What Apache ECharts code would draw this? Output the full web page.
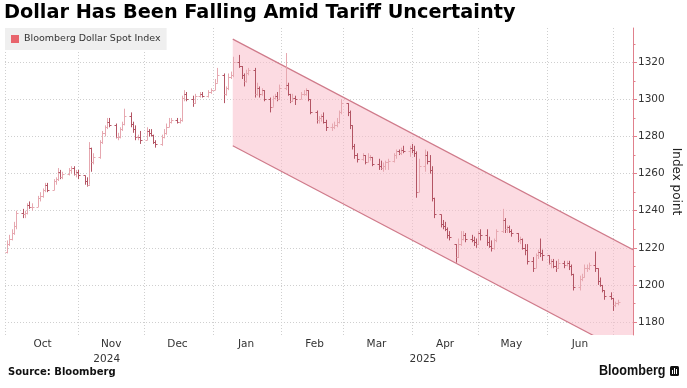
<!DOCTYPE html>
<html><head><meta charset="utf-8">
<script src="https://cdn.jsdelivr.net/npm/echarts@6/dist/echarts.min.js"></script>
<style>html,body{margin:0;padding:0;background:#fff}#c{width:687px;height:388px}</style>
</head><body><div id="c"></div>
<script>
// ---------- DATA ----------
const dates = [
 '2024-09-30','2024-10-01','2024-10-02','2024-10-03','2024-10-04','2024-10-07','2024-10-08','2024-10-09','2024-10-10','2024-10-11','2024-10-14','2024-10-15','2024-10-16','2024-10-17','2024-10-18','2024-10-21','2024-10-22','2024-10-23','2024-10-24','2024-10-25','2024-10-28','2024-10-29','2024-10-30','2024-10-31',
 '2024-11-01','2024-11-04','2024-11-05','2024-11-06','2024-11-07','2024-11-08','2024-11-11','2024-11-12','2024-11-13','2024-11-14','2024-11-15','2024-11-18','2024-11-19','2024-11-20','2024-11-21','2024-11-22','2024-11-25','2024-11-26','2024-11-27','2024-11-28','2024-11-29',
 '2024-12-02','2024-12-03','2024-12-04','2024-12-05','2024-12-06','2024-12-09','2024-12-10','2024-12-11','2024-12-12','2024-12-13','2024-12-16','2024-12-17','2024-12-18','2024-12-19','2024-12-20','2024-12-23','2024-12-24','2024-12-26','2024-12-27','2024-12-30','2024-12-31',
 '2025-01-02','2025-01-03','2025-01-06','2025-01-07','2025-01-08','2025-01-09','2025-01-10','2025-01-13','2025-01-14','2025-01-15','2025-01-16','2025-01-17','2025-01-20','2025-01-21','2025-01-22','2025-01-23','2025-01-24','2025-01-27','2025-01-28','2025-01-29','2025-01-30','2025-01-31',
 '2025-02-03','2025-02-04','2025-02-05','2025-02-06','2025-02-07','2025-02-10','2025-02-11','2025-02-12','2025-02-13','2025-02-14','2025-02-17','2025-02-18','2025-02-19','2025-02-20','2025-02-21','2025-02-24','2025-02-25','2025-02-26','2025-02-27','2025-02-28',
 '2025-03-03','2025-03-04','2025-03-05','2025-03-06','2025-03-07','2025-03-10','2025-03-11','2025-03-12','2025-03-13','2025-03-14','2025-03-17','2025-03-18','2025-03-19','2025-03-20','2025-03-21','2025-03-24','2025-03-25','2025-03-26','2025-03-27','2025-03-28','2025-03-31',
 '2025-04-01','2025-04-02','2025-04-03','2025-04-04','2025-04-07','2025-04-08','2025-04-09','2025-04-10','2025-04-11','2025-04-14','2025-04-15','2025-04-16','2025-04-17','2025-04-18','2025-04-21','2025-04-22','2025-04-23','2025-04-24','2025-04-25','2025-04-28','2025-04-29','2025-04-30',
 '2025-05-01','2025-05-02','2025-05-05','2025-05-06','2025-05-07','2025-05-08','2025-05-09','2025-05-12','2025-05-13','2025-05-14','2025-05-15','2025-05-16','2025-05-19','2025-05-20','2025-05-21','2025-05-22','2025-05-23','2025-05-26','2025-05-27','2025-05-28','2025-05-29','2025-05-30',
 '2025-06-02','2025-06-03','2025-06-04','2025-06-05','2025-06-06','2025-06-09','2025-06-10','2025-06-11','2025-06-12','2025-06-13','2025-06-16','2025-06-17','2025-06-18','2025-06-19','2025-06-20','2025-06-23','2025-06-24','2025-06-25','2025-06-26','2025-06-27','2025-06-30',
 '2025-07-01','2025-07-02','2025-07-03'
];
const openV = [
 1218,1222,1225,1228,1232,1239,1238,1239,1243,1242,1242,1247,1248,1251,1254,1251,1256,1257,1261,1258,1260,1262,1263,1260,
 1261,1259,1256,1254,1274,1266,1269,1277,1282,1285,1288,1286,1280,1280,1284,1287,1291,1287,1284,1280,1280,
 1278,1283,1282,1281,1277,1276,1280,1282,1285,1288,1289,1288,1289,1301,1303,1300,1298,1302,1303,1302,1304,
 1305,1309,1313,1303,1306,1312,1313,1320,1318,1313,1310,1314,1316,1303,1306,1303,1305,1300,1296,1301,1302,1300,
 1306,1308,1303,1299,1301,1300,1303,1303,1305,1300,1293,1289,1290,1291,1288,1285,1285,1286,1288,1293,
 1298,1293,1286,1275,1270,1268,1270,1266,1269,1269,1265,1264,1263,1264,1266,1267,1270,1272,1271,1273,1272,
 1274,1273,1271,1250,1264,1270,1267,1262,1247,1238,1233,1232,1230,1227,1222,1215,1222,1225,1227,1225,1224,1223,
 1222,1228,1227,1223,1221,1220,1224,1229,1235,1230,1231,1229,1228,1224,1225,1220,1219,1213,1209,1216,1218,1217,
 1216,1212,1213,1210,1209,1212,1211,1212,1210,1206,1199,1203,1204,1209,1209,1211,1209,1202,1200,1197,1194,
 1193,1189,1190
];
const highV = [
 1224,1227,1230,1234,1240,1241,1240,1244,1245,1244,1248,1250,1252,1255,1255,1257,1258,1263,1262,1261,1263,1264,1264,1262,
 1262,1259,1258,1277,1274,1271,1278,1283,1286,1290,1290,1287,1282,1285,1288,1295,1293,1288,1286,1281,1283,
 1285,1284,1284,1281,1278,1281,1284,1287,1290,1290,1290,1290,1302,1305,1304,1302,1303,1304,1304,1305,1306,
 1311,1317,1314,1307,1314,1315,1323,1324,1318,1314,1316,1317,1317,1309,1307,1306,1305,1301,1302,1303,1304,1308,
 1325,1309,1303,1303,1302,1304,1305,1306,1305,1300,1294,1291,1292,1293,1289,1287,1288,1290,1294,1300,
 1298,1294,1286,1276,1271,1271,1270,1271,1270,1269,1268,1267,1266,1267,1268,1271,1273,1273,1274,1275,1275,
 1276,1275,1272,1268,1273,1272,1270,1264,1247,1238,1235,1234,1231,1229,1222,1225,1229,1229,1228,1227,1226,1225,
 1229,1230,1230,1226,1224,1225,1230,1241,1236,1232,1232,1230,1228,1226,1225,1222,1222,1215,1217,1219,1225,1219,
 1216,1214,1214,1213,1214,1213,1213,1213,1211,1206,1205,1206,1211,1211,1212,1218,1209,1204,1200,1197,1196,
 1193,1191,1192
];
const lowV = [
 1217,1221,1224,1227,1230,1236,1236,1238,1241,1240,1242,1245,1247,1250,1250,1251,1254,1256,1257,1257,1259,1260,1259,1258,
 1257,1254,1253,1254,1261,1265,1268,1276,1280,1284,1285,1279,1278,1279,1283,1286,1285,1282,1278,1278,1276,
 1278,1280,1280,1276,1274,1275,1279,1281,1285,1287,1287,1287,1288,1299,1299,1296,1298,1301,1301,1301,1303,
 1305,1309,1298,1302,1305,1311,1312,1317,1311,1307,1309,1313,1301,1302,1301,1302,1299,1293,1296,1300,1299,1300,
 1305,1302,1298,1299,1297,1300,1302,1302,1299,1292,1287,1287,1288,1287,1283,1283,1284,1285,1287,1292,
 1291,1284,1273,1268,1266,1267,1265,1266,1267,1264,1262,1262,1261,1262,1262,1266,1268,1270,1270,1271,1269,
 1271,1269,1247,1250,1261,1265,1260,1245,1236,1231,1230,1229,1225,1224,1212,1215,1221,1224,1223,1223,1221,1220,
 1222,1224,1221,1220,1218,1219,1223,1228,1228,1228,1228,1226,1223,1222,1219,1216,1211,1207,1209,1214,1215,1213,
 1211,1209,1209,1207,1209,1209,1210,1208,1205,1197,1197,1202,1204,1207,1208,1207,1200,1199,1196,1192,1192,
 1186,1188,1189
];
const closeV = [
 1222,1225,1228,1232,1239,1238,1239,1243,1242,1242,1247,1248,1251,1254,1251,1256,1257,1261,1258,1260,1262,1263,1260,1261,
 1259,1256,1254,1274,1266,1269,1277,1282,1285,1288,1286,1280,1280,1284,1287,1291,1287,1284,1280,1280,1278,
 1283,1282,1281,1277,1276,1280,1282,1285,1288,1289,1288,1289,1301,1303,1300,1298,1302,1303,1302,1304,1305,
 1309,1313,1303,1306,1312,1313,1320,1318,1313,1310,1314,1316,1303,1306,1303,1305,1300,1296,1301,1302,1300,1306,
 1308,1303,1299,1301,1300,1303,1303,1305,1300,1293,1289,1290,1291,1288,1285,1285,1286,1288,1293,1298,
 1293,1286,1275,1270,1268,1270,1266,1269,1269,1265,1264,1263,1264,1266,1267,1270,1272,1271,1273,1272,1274,
 1273,1271,1250,1264,1270,1267,1262,1247,1238,1233,1232,1230,1227,1226,1215,1222,1225,1227,1225,1224,1223,1222,
 1228,1227,1223,1221,1220,1224,1229,1235,1230,1231,1229,1228,1224,1225,1220,1219,1213,1209,1216,1218,1217,1216,
 1212,1213,1210,1209,1212,1211,1212,1210,1206,1199,1203,1204,1209,1209,1211,1209,1202,1200,1197,1194,1193,
 1189,1190,1191
];
// channel (trend band) end points
const channelDates = ['2025-01-10', '2025-07-10'];
const channelUpper = [1332.5, 1219];
const channelLower = [1275, 1161.5];
// axis ticks / labels
const yTickValues = [1180, 1200, 1220, 1240, 1260, 1280, 1300, 1320];
const yMinorTickValues = [1190, 1210, 1230, 1250, 1270, 1290, 1310, 1330];
const monthStartDates = ['2024-09-29','2024-11-01','2024-12-01','2025-01-01','2025-02-01','2025-03-01','2025-04-01','2025-05-01','2025-06-01','2025-07-01'];
const monthLabelDates = ['2024-10-16','2024-11-16','2024-12-16','2025-01-16','2025-02-16','2025-03-16','2025-04-16','2025-05-16','2025-06-16'];
const monthNames = ['Jan','Feb','Mar','Apr','May','Jun','Jul','Aug','Sep','Oct','Nov','Dec'];
const yearLabelDates = ['2024-11-14', '2025-04-06'];
const xMin = '2024-09-29', xMax = '2025-07-10';
const yMin = 1173, yMax = 1338.5;

// ---------- HELPERS ----------
function ts(s) { const p = s.split('-').map(Number); return new Date(p[0], p[1] - 1, p[2]).getTime(); }
const UP = '#e6a8b0', DOWN = '#b35564';
const AXIS_RED = '#e0808c';
const ohlcData = dates.map((d, i) => [ts(d), openV[i], highV[i], lowV[i], closeV[i]]);
const channelData = channelDates.map((d, i) => [ts(d), channelUpper[i], channelLower[i]]);
const FONT = '"DejaVu Sans", sans-serif';

const chart = echarts.init(document.getElementById('c'), null, { renderer: 'canvas' });
chart.setOption({
  animation: false,
  backgroundColor: '#fff',
  title: {
    text: 'Dollar Has Been Falling Amid Tariff Uncertainty',
    left: 4, top: 1, padding: 0,
    textStyle: { fontFamily: '"DejaVu Sans", sans-serif', fontWeight: 'bold', fontSize: 19.3, color: '#000', lineHeight: 24 }
  },
  legend: {
    data: ['Bloomberg Dollar Spot Index'],
    left: 5, top: 28,
    padding: [6, 6, 6, 6],
    backgroundColor: '#efefef',
    icon: 'rect', itemWidth: 8, itemHeight: 8, itemGap: 4,
    selectedMode: false,
    textStyle: { fontFamily: FONT, fontSize: 9.5, color: '#333' }
  },
  grid: { left: 5, right: 54, top: 28, bottom: 53, containLabel: false, outerBoundsMode: 'none' },
  xAxis: [{
    type: 'value', min: ts(xMin), max: ts(xMax),
    axisLine: { show: false },
    axisTick: { show: false, customValues: monthStartDates.map(ts) },
    splitLine: { show: true, lineStyle: { color: '#cfcfcf', type: [1, 2], width: 1 } },
    axisLabel: {
      customValues: monthLabelDates.map(ts),
      formatter: v => monthNames[new Date(v).getMonth()],
      fontFamily: FONT, fontSize: 10.5, color: '#333', margin: 4
    }
  }, {
    type: 'value', min: ts(xMin), max: ts(xMax), position: 'bottom', offset: 15,
    axisLine: { show: false }, axisTick: { show: false, customValues: yearLabelDates.map(ts) }, splitLine: { show: false },
    axisLabel: {
      customValues: yearLabelDates.map(ts),
      formatter: v => String(new Date(v).getFullYear()),
      fontFamily: FONT, fontSize: 10.5, color: '#333', margin: 4
    }
  }],
  yAxis: [{
    type: 'value', position: 'right', min: yMin, max: yMax,
    name: 'Index point', nameLocation: 'middle', nameRotate: -90, nameGap: 37, nameMoveOverlap: false,
    nameTextStyle: { fontFamily: FONT, fontSize: 12, color: '#222' },
    axisLine: { show: true, lineStyle: { color: AXIS_RED, width: 1 } },
    axisTick: { show: true, length: 4, customValues: yTickValues, lineStyle: { color: AXIS_RED } },
    splitLine: { show: true, lineStyle: { color: '#cfcfcf', type: [1, 2], width: 1 } },
    axisLabel: { customValues: yTickValues, formatter: v => String(v), fontFamily: FONT, fontSize: 10.5, color: '#333', margin: 5 }
  }, {
    type: 'value', position: 'right', min: yMin, max: yMax,
    axisLine: { show: false },
    axisTick: { show: true, length: 2.5, customValues: yMinorTickValues, lineStyle: { color: AXIS_RED } },
    splitLine: { show: false },
    axisLabel: { show: false, customValues: yMinorTickValues }
  }],
  series: [{
    name: 'channel', type: 'custom', clip: true, z: 1, silent: true,
    data: channelData,
    encode: { x: 0, y: [1, 2] },
    renderItem: function (params, api) {
      if (params.dataIndexInside !== 0) return null;
      const u0 = api.coord([api.value(0, 0), api.value(1, 0)]);
      const l0 = api.coord([api.value(0, 0), api.value(2, 0)]);
      const u1 = api.coord([api.value(0, 1), api.value(1, 1)]);
      const l1 = api.coord([api.value(0, 1), api.value(2, 1)]);
      return { type: 'group', children: [
        { type: 'polygon', shape: { points: [u0, u1, l1, l0] }, style: { fill: 'rgba(250,190,202,0.55)', stroke: null } },
        { type: 'line', shape: { x1: u0[0], y1: u0[1], x2: u1[0], y2: u1[1] }, style: { stroke: '#cf7a8a', lineWidth: 1.2 } },
        { type: 'line', shape: { x1: l0[0], y1: l0[1], x2: l1[0], y2: l1[1] }, style: { stroke: '#cf7a8a', lineWidth: 1.2 } }
      ]};
    }
  }, {
    name: 'Bloomberg Dollar Spot Index', type: 'custom', z: 3,
    itemStyle: { color: '#e8646c' },
    data: ohlcData,
    encode: { x: 0, y: [1, 2, 3, 4] },
    renderItem: function (params, api) {
      const t = api.value(0);
      const o = api.value(1), h = api.value(2), l = api.value(3), c = api.value(4);
      const pH = api.coord([t, h]), pL = api.coord([t, l]), pO = api.coord([t, o]), pC = api.coord([t, c]);
      const x = Math.round(pH[0]) + 0.5;
      const col = c >= o ? UP : DOWN;
      const yo = Math.round(pO[1]) + 0.5, yc = Math.round(pC[1]) + 0.5;
      return { type: 'group', children: [
        { type: 'line', shape: { x1: x, y1: pH[1], x2: x, y2: pL[1] }, style: { stroke: col, lineWidth: 1 } },
        { type: 'line', shape: { x1: x - 2, y1: yo, x2: x, y2: yo }, style: { stroke: col, lineWidth: 1 } },
        { type: 'line', shape: { x1: x, y1: yc, x2: x + 2, y2: yc }, style: { stroke: col, lineWidth: 1 } }
      ]};
    }
  }],
  graphic: [
    { type: 'text', left: 8, top: 367, style: { text: 'Source: Bloomberg', font: 'bold 10px "DejaVu Sans"', fill: '#111' } },
    { type: 'text', x: 599, y: 363, scaleX: 0.84, style: { text: 'Bloomberg', font: 'bold 15px "Liberation Sans"', fill: '#111' } },
    { type: 'group', x: 670, y: 366, children: [
      { type: 'rect', shape: { x: 0, y: 0, width: 9, height: 10, r: 1.5 }, style: { fill: '#111' } },
      { type: 'rect', shape: { x: 2, y: 4, width: 1, height: 4 }, style: { fill: '#fff' } },
      { type: 'rect', shape: { x: 4, y: 2, width: 1, height: 6 }, style: { fill: '#fff' } },
      { type: 'rect', shape: { x: 6, y: 3, width: 1, height: 5 }, style: { fill: '#fff' } }
    ]}
  ]
});
</script>
</body></html>
